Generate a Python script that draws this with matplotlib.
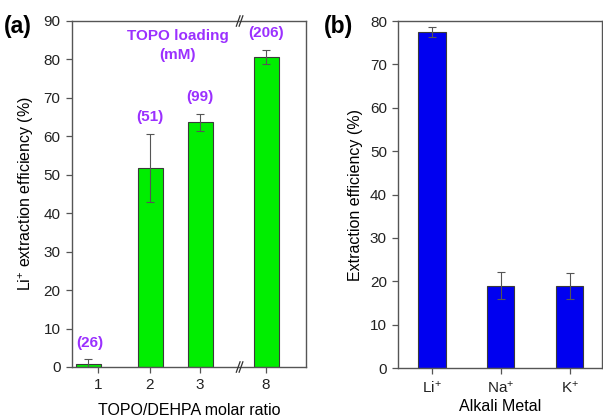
import matplotlib
matplotlib.use("Agg")
import matplotlib.pyplot as plt
import numpy as np

plt.rcParams['font.family'] = ['Liberation Sans', 'DejaVu Sans']
plt.rcParams['mathtext.fontset'] = 'custom'
plt.rcParams['mathtext.rm'] = 'Liberation Sans'
plt.rcParams['mathtext.it'] = 'Liberation Sans:italic'
plt.rcParams['mathtext.bf'] = 'Liberation Sans:bold'

# Panel (a)
ratio_labels = ["1", "2", "3", "8"]
li_eff = [0.9, 51.8, 63.6, 80.6]
li_err_lo = [0.9, 8.8, 2.1, 1.8]
li_err_hi = [1.1, 8.8, 2.3, 1.9]
topo_loading = ["(26)", "(51)", "(99)", "(206)"]

# Panel (b)
metals = ["Li$^{+}$", "Na$^{+}$", "K$^{+}$"]
metal_eff = [77.5, 19.0, 19.0]
metal_err = [1.2, 3.2, 3.0]

GREEN = "#00EE00"
BLUE = "#0000F0"
PURPLE = "#9B30FF"
EDGE = "#3a3a3a"
SPINE = "#555555"

fig = plt.figure(figsize=(6.03, 4.18), dpi=100)
W, H = 603, 418
axa = fig.add_axes([71.5 / W, 1 - 367 / H, (306 - 71.5) / W, (367 - 21) / H])
axb = fig.add_axes([398 / W, 1 - 368 / H, (602 - 398) / W, (368 - 21) / H])

# ---- panel (a)
tick_pos = np.array([0.96, 2.0, 3.0, 4.32])
bar_pos = tick_pos.copy()
bar_pos[0] -= 0.2
axa.bar(bar_pos, li_eff, width=0.5, color=GREEN, edgecolor=EDGE, linewidth=0.8, zorder=2)
axa.errorbar(bar_pos, li_eff, yerr=[li_err_lo, li_err_hi], fmt='none',
             ecolor="#555555", elinewidth=0.8, capsize=3, capthick=0.8, zorder=3)
for x, v, e, t in zip(bar_pos, li_eff, li_err_hi, topo_loading):
    axa.text(x + (0.03 if t == "(26)" else 0), v + e + 4.3, t, ha='center', va='center',
             color=PURPLE, fontsize=11, fontweight='bold')
axa.text(2.56, 83.6, "TOPO loading\n(mM)", ha='center', va='center', color=PURPLE,
         fontsize=11, fontweight='bold', linespacing=1.5)
axa.set_xlim(0.43, 5.12)
axa.set_ylim(0, 90)
axa.set_xticks(tick_pos)
axa.set_xticklabels(ratio_labels)
axa.set_yticks(np.arange(0, 91, 10))
axa.set_xlabel("TOPO/DEHPA molar ratio", fontsize=11.5, labelpad=8)
axa.set_ylabel("Li$^{+}$ extraction efficiency (%)", fontsize=11.5, labelpad=5)

# break marks
brk_x = (3.82 - 0.43) / (5.12 - 0.43)
for yb in (0, 1):
    for dx in (-0.012, 0.0):
        axa.plot([brk_x + dx - 0.008, brk_x + dx + 0.008], [yb - 0.015, yb + 0.015],
                 transform=axa.transAxes, color="#333333", lw=0.9, clip_on=False, zorder=5)
axa.text(4 / W, 1 - 26 / H, "(a)", transform=fig.transFigure, fontsize=16.5,
         fontweight='bold', ha='left', va='center')

# ---- panel (b)
mpos = np.arange(len(metals))
axb.bar(mpos, metal_eff, width=0.4, color=BLUE, edgecolor=EDGE, linewidth=0.8, zorder=2)
axb.errorbar(mpos, metal_eff, yerr=metal_err, fmt='none', ecolor="#555555",
             elinewidth=0.8, capsize=3, capthick=0.8, zorder=3)
axb.set_xlim(-0.49, 2.47)
axb.set_ylim(0, 80)
axb.set_xticks(mpos)
axb.set_xticklabels(metals)
axb.set_yticks(np.arange(0, 81, 10))
axb.set_xlabel("Alkali Metal", fontsize=11.5, labelpad=3)
axb.set_ylabel("Extraction efficiency (%)", fontsize=11.5, labelpad=5)
axb.text(324 / W, 1 - 26 / H, "(b)", transform=fig.transFigure, fontsize=16.5,
         fontweight='bold', ha='left', va='center')

for ax in (axa, axb):
    for s in ax.spines.values():
        s.set_color(SPINE)
        s.set_linewidth(1.0)
    ax.tick_params(direction='out', length=4, width=0.9, color=SPINE, labelsize=11,
                   labelcolor="#222222", pad=4)

fig.savefig("out.png", dpi=100)
